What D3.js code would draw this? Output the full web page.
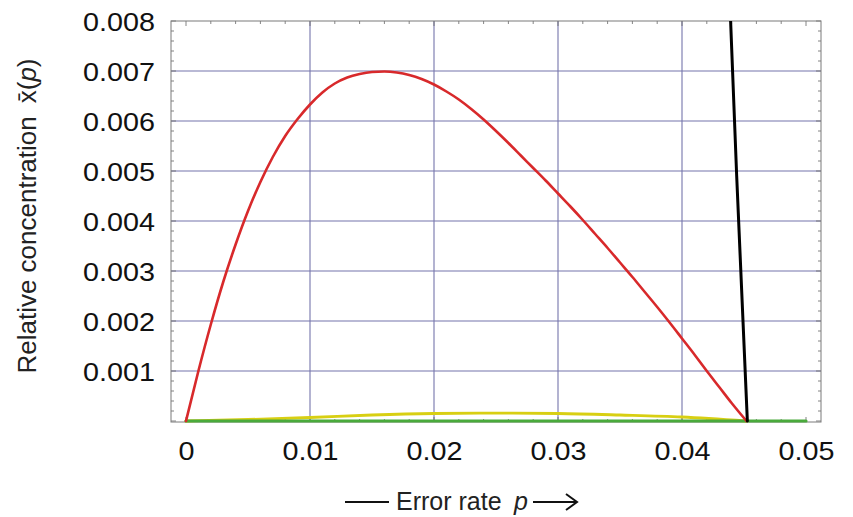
<!DOCTYPE html>
<html>
<head>
<meta charset="utf-8">
<script src="https://cdn.jsdelivr.net/npm/d3@7"></script>
<style>
  body { margin: 0; background: #fff; }
  svg { display: block; }
</style>
</head>
<body>
<svg id="chart" width="853" height="517"></svg>
<script>
// ---- data ----
const xTicks = [0, 0.01, 0.02, 0.03, 0.04, 0.05];
const xTickLabels = ["0", "0.01", "0.02", "0.03", "0.04", "0.05"];
const yTicks = [0.001, 0.002, 0.003, 0.004, 0.005, 0.006, 0.007, 0.008];
const yTickLabels = ["0.001", "0.002", "0.003", "0.004", "0.005", "0.006", "0.007", "0.008"];

const redP = [0, 0.001, 0.002, 0.003, 0.004, 0.005, 0.006, 0.007, 0.008, 0.009, 0.010, 0.011, 0.012, 0.013, 0.014, 0.015, 0.016, 0.017, 0.018, 0.019, 0.020, 0.021, 0.022, 0.023, 0.024, 0.025, 0.026, 0.027, 0.028, 0.029, 0.030, 0.031, 0.032, 0.033, 0.034, 0.035, 0.036, 0.037, 0.038, 0.039, 0.040, 0.041, 0.042, 0.043, 0.044, 0.0452];
const redV = [0, 0.00100, 0.00193, 0.00278, 0.00353, 0.00420, 0.00478, 0.00528, 0.00570, 0.00604, 0.00633, 0.00657, 0.00675, 0.00687, 0.00694, 0.00698, 0.00699, 0.00697, 0.00692, 0.00684, 0.00673, 0.00659, 0.00643, 0.00624, 0.00603, 0.00580, 0.00556, 0.00531, 0.00506, 0.00481, 0.00455, 0.00429, 0.00402, 0.00374, 0.00346, 0.00317, 0.00288, 0.00258, 0.00228, 0.00197, 0.00165, 0.00133, 0.00100, 0.00068, 0.00036, 0];

const yellowP = [0, 0.005, 0.010, 0.015, 0.020, 0.025, 0.030, 0.035, 0.040, 0.0452];
const yellowV = [0, 0.00003, 0.00007, 0.00012, 0.000150, 0.000158, 0.000150, 0.00012, 0.00008, 0];

const greenP = [0, 0.01, 0.02, 0.03, 0.04, 0.05];
const greenV = [0, 0, 0, 0, 0, 0];

const blackP = [0.04392, 0.04441, 0.04527];
const blackV = [0.008, 0.0049, 0];

// ---- layout ----
const svg = d3.select("#chart");
const frame = { left: 171, top: 21, right: 821, bottom: 422 };
const x = d3.scaleLinear().domain([0, 0.05]).range([186, 806]);
const y = d3.scaleLinear().domain([0, 0.008]).range([421, 21]);

svg.append("rect").attr("width", 853).attr("height", 517).attr("fill", "#fff");

svg.append("defs").append("clipPath").attr("id", "clip")
  .append("rect")
  .attr("x", frame.left).attr("y", frame.top)
  .attr("width", frame.right - frame.left).attr("height", frame.bottom - frame.top + 3);

// gridlines
const grid = svg.append("g").attr("stroke", "#7575ab").attr("stroke-width", 1.1);
grid.selectAll("line.v").data(xTicks.slice(1, 5)).join("line")
  .attr("x1", d => x(d)).attr("x2", d => x(d))
  .attr("y1", frame.top).attr("y2", frame.bottom);
grid.selectAll("line.h").data(yTicks.slice(0, 7)).join("line")
  .attr("y1", d => y(d)).attr("y2", d => y(d))
  .attr("x1", frame.left).attr("x2", frame.right);

// inner minor ticks on the frame
const tickG = svg.append("g").attr("stroke", "#666").attr("stroke-width", 0.8);
const xMinor = d3.range(0, 0.0501, 0.002);
const yMinor = d3.range(0, 0.00801, 0.0002);
const isMajX = d => Math.abs(d * 100 - Math.round(d * 100)) < 1e-6;
const isMajY = d => Math.abs(d * 1000 - Math.round(d * 1000)) < 1e-6;
xMinor.forEach(d => {
  const L = isMajX(d) ? 5 : 3;
  tickG.append("line").attr("x1", x(d)).attr("x2", x(d)).attr("y1", frame.top).attr("y2", frame.top + L);
  tickG.append("line").attr("x1", x(d)).attr("x2", x(d)).attr("y1", frame.bottom).attr("y2", frame.bottom - L);
});
yMinor.forEach(d => {
  const L = isMajY(d) ? 5 : 3;
  tickG.append("line").attr("y1", y(d)).attr("y2", y(d)).attr("x1", frame.left).attr("x2", frame.left + L);
  tickG.append("line").attr("y1", y(d)).attr("y2", y(d)).attr("x1", frame.right).attr("x2", frame.right - L);
});

// frame
svg.append("rect")
  .attr("x", frame.left).attr("y", frame.top)
  .attr("width", frame.right - frame.left).attr("height", frame.bottom - frame.top)
  .attr("fill", "none").attr("stroke", "#7a7a7a").attr("stroke-width", 1);

// curves
const line = d3.line().x(d => x(d[0])).y(d => y(d[1])).curve(d3.curveMonotoneX);
const lineLin = d3.line().x(d => x(d[0])).y(d => y(d[1]));
const curves = svg.append("g").attr("clip-path", "url(#clip)").attr("fill", "none")
  .attr("stroke-linejoin", "round").attr("stroke-linecap", "round");

curves.append("path").datum(d3.zip(yellowP, yellowV)).attr("d", line)
  .attr("stroke", "#d8cf12").attr("stroke-width", 2.8);
curves.append("path").datum(d3.zip(greenP, greenV)).attr("d", lineLin)
  .attr("stroke", "#4aaa3c").attr("stroke-width", 3.2);
curves.append("path").datum(d3.zip(redP, redV)).attr("d", line)
  .attr("stroke", "#d8292b").attr("stroke-width", 2.6);
curves.append("path").datum(d3.zip(blackP, blackV)).attr("d", lineLin)
  .attr("stroke", "#000").attr("stroke-width", 3);

// axes (labels only)
const font = "'Liberation Sans', Arial, Helvetica, sans-serif";
const sx = 1.15;
const xAxis = svg.append("g").attr("transform", `translate(0,${frame.bottom})`)
  .call(d3.axisBottom(x).tickValues(xTicks).tickSize(0).tickFormat((d, i) => xTickLabels[i]));
xAxis.select(".domain").remove();
xAxis.selectAll("text")
  .attr("y", 38).attr("dy", null)
  .attr("transform", `scale(${sx},1)`)
  .attr("font-family", font).attr("font-size", 25).attr("fill", "#111");

const yAxis = svg.append("g").attr("transform", `translate(${frame.left},0)`)
  .call(d3.axisLeft(y).tickValues(yTicks).tickSize(0).tickFormat((d, i) => yTickLabels[i]));
yAxis.select(".domain").remove();
yAxis.selectAll("text")
  .attr("x", -16 / sx).attr("dy", "0.36em")
  .attr("transform", `scale(${sx},1)`)
  .attr("font-family", font).attr("font-size", 25).attr("fill", "#111");

// y label
const yl = svg.append("text")
  .attr("transform", "translate(36,216) rotate(-90)")
  .attr("text-anchor", "middle")
  .attr("font-family", font).attr("font-size", 26).attr("fill", "#222");
yl.append("tspan").text("Relative concentration\u2002");
yl.append("tspan").text("x\u0304(");
yl.append("tspan").attr("font-style", "italic").text("p");
yl.append("tspan").text(")");

// x label
const xl = svg.append("g");
xl.append("line").attr("x1", 345).attr("x2", 389).attr("y1", 502).attr("y2", 502)
  .attr("stroke", "#111").attr("stroke-width", 2);
const xt = xl.append("text").attr("x", 396).attr("y", 510)
  .attr("font-family", font).attr("font-size", 25).attr("fill", "#222");
xt.append("tspan").text("Error rate\u2002");
xt.append("tspan").attr("font-style", "italic").text("p");
xl.append("line").attr("x1", 533).attr("x2", 576).attr("y1", 502).attr("y2", 502)
  .attr("stroke", "#111").attr("stroke-width", 2);
xl.append("path").attr("d", "M566,494 L577,502 L566,510")
  .attr("fill", "none").attr("stroke", "#111").attr("stroke-width", 2);
</script>
</body>
</html>
